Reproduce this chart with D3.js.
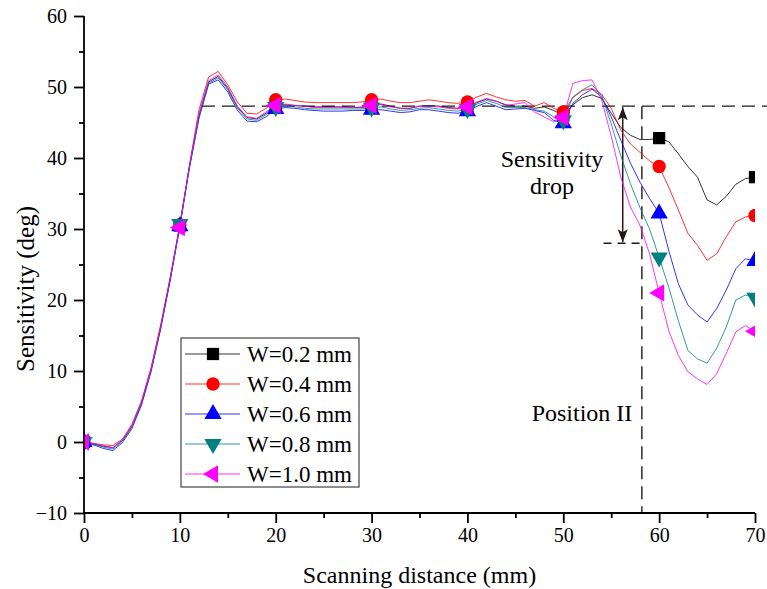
<!DOCTYPE html>
<html>
<head>
<meta charset="utf-8">
<script src="https://cdn.jsdelivr.net/npm/d3@7"></script>
<style>
  html, body { margin: 0; padding: 0; background: #fff; }
  svg { display: block; }
  text { font-family: "Liberation Serif", "Times New Roman", serif; fill: #000; }
</style>
</head>
<body>
<svg id="chart" width="767" height="589"></svg>
<script>
// ---------- DATA ----------
const distance = [0,1,2,3,4,5,6,7,8,9,10,11,12,13,14,15,16,17,18,19,20,21,22,23,24,25,26,27,28,29,30,31,32,33,34,35,36,37,38,39,40,41,42,43,44,45,46,47,48,49,50,51,52,53,54,55,56,57,58,59,60,61,62,63,64,65,66,67,68,69,70];
const markerDistances = [0,10,20,30,40,50,60,70];
const seriesNames = ["W=0.2 mm","W=0.4 mm","W=0.6 mm","W=0.8 mm","W=1.0 mm"];
const w02 = [0,-0.3,-0.6,-0.8,0.2,2.2,5.5,10.2,16.2,23.0,30.5,38.8,46.0,50.7,51.5,49.8,47.2,45.7,45.5,46.3,47.5,47.5,47.4,47.3,47.2,47.2,47.2,47.2,47.1,47.1,47.4,47.6,47.3,47.0,47.0,47.3,47.4,47.3,47.1,47.0,47.3,47.8,48.3,48.0,47.5,47.3,47.3,47.0,47.2,46.7,46.0,47.5,48.5,48.9,48.4,46.3,44.3,43.2,42.6,42.6,42.8,42.3,40.6,38.8,37.3,34.1,33.4,34.6,36.3,37.1,37.3];
const w04 = [0,-0.2,-0.4,-0.5,0.4,2.5,5.8,10.5,16.5,23.3,30.6,39.0,46.8,51.4,52.2,50.3,47.9,46.3,46.2,47.0,48.2,48.3,48.1,47.9,47.8,47.8,47.8,47.8,47.8,47.9,48.2,48.3,48.0,47.8,47.8,48.0,48.2,48.0,47.8,47.7,47.9,48.6,49.1,48.6,48.2,48.0,48.1,47.3,47.8,47.0,46.5,48.5,49.5,49.8,49.0,47.0,43.9,42.0,40.8,39.6,38.8,35.9,32.7,29.4,27.7,25.6,26.5,28.9,31.0,31.7,31.9];
const w06 = [0,-0.4,-0.9,-1.2,-0.1,1.9,5.2,9.9,15.9,22.8,30.4,38.6,45.6,50.4,51.0,49.3,46.7,45.2,45.1,45.8,46.9,47.1,47.0,46.8,46.7,46.6,46.6,46.6,46.7,46.7,46.8,46.8,46.6,46.4,46.5,46.8,46.8,46.6,46.4,46.3,46.6,47.3,47.8,47.3,46.8,46.9,47.0,46.7,46.4,45.3,44.9,47.7,48.9,49.7,48.6,45.8,42.5,39.3,36.6,34.3,32.2,27.0,22.3,19.3,17.9,16.9,18.8,21.4,24.4,25.8,25.5];
const w08 = [0,-0.3,-0.7,-1.0,0.1,2.1,5.4,10.1,16.1,22.9,30.7,38.7,45.8,50.5,51.3,49.6,47.0,45.5,45.3,46.1,47.2,47.3,47.2,47.0,46.9,46.9,46.9,46.9,46.9,46.9,47.1,47.2,46.9,46.7,46.8,47.0,47.1,46.9,46.7,46.6,46.9,47.6,48.1,47.7,47.1,47.1,47.1,46.8,46.6,45.8,45.3,48.6,49.6,50.3,48.8,44.8,40.3,36.4,33.0,30.0,26.0,21.8,17.1,12.9,11.7,11.1,13.2,16.2,20.0,20.7,20.3];
const w10 = [0,-0.2,-0.5,-0.8,0.3,2.3,5.6,10.3,16.3,23.1,30.2,38.9,46.3,50.9,51.7,50.0,47.3,45.8,45.6,46.5,47.4,47.6,47.4,47.3,47.1,47.1,47.1,47.1,47.1,47.2,47.4,47.5,47.2,47.0,47.0,47.3,47.3,47.2,47.0,46.9,47.2,47.9,48.4,48.0,47.4,47.6,47.8,46.5,45.8,45.1,45.7,50.5,50.9,51.0,48.2,43.1,37.3,33.1,30.5,26.5,21.0,15.7,12.2,9.9,8.9,8.1,9.6,12.5,15.5,16.4,15.6];
const xTicks = [0,10,20,30,40,50,60,70];
const yTicks = [-10,0,10,20,30,40,50,60];
const xMinor = [5,15,25,35,45,55,65];
const yMinor = [-5,5,15,25,35,45,55];
// annotation values
const plateau = 47.3;
const plateauStart = 12.3;
const dropLevel = 28.0;
const dropLineStart = 54.2;
const positionII = 58.2;
const arrowX = 56.2;

// ---------- STYLE ----------
const colors = ["#000000","#ff0000","#0000ff","#008080","#ff00ff"];
const shapes = ["square","circle","up","down","left"];
const series = [w02,w04,w06,w08,w10];
const FONT = '"Liberation Serif", "Times New Roman", serif';
const annColor = "#231815";

const svg = d3.select("#chart");
const x = d3.scaleLinear().domain([0,70]).range([84,755]);
const y = d3.scaleLinear().domain([-10,60]).range([513,16]);

const defs = svg.append("defs");
defs.append("clipPath").attr("id","plotclip")
  .append("rect").attr("x",x(0)).attr("y",0).attr("width",x(70)-x(0)).attr("height",589);
defs.append("marker").attr("id","arrowhead")
  .attr("viewBox","-14 -6 16 12").attr("refX",0).attr("refY",0)
  .attr("markerWidth",16).attr("markerHeight",12).attr("markerUnits","userSpaceOnUse")
  .attr("orient","auto-start-reverse")
  .append("path").attr("d","M0,0 L-13,-5 L-10,0 L-13,5 Z").attr("fill",annColor);

// ---------- ANNOTATION LINES ----------
const ann = svg.append("g");
ann.append("line")
  .attr("x1",x(plateauStart)).attr("x2",767).attr("y1",y(plateau)).attr("y2",y(plateau))
  .attr("stroke",annColor).attr("stroke-width",1.4).attr("stroke-dasharray","13,7");
ann.append("line")
  .attr("x1",x(positionII)).attr("x2",x(positionII)).attr("y1",y(plateau)).attr("y2",y(-10))
  .attr("stroke",annColor).attr("stroke-width",1.4).attr("stroke-dasharray","13,7");
ann.append("line")
  .attr("x1",x(dropLineStart)).attr("x2",x(positionII)).attr("y1",y(dropLevel)).attr("y2",y(dropLevel))
  .attr("stroke",annColor).attr("stroke-width",1.4).attr("stroke-dasharray","8,6");

// ---------- SERIES ----------
const plot = svg.append("g").attr("clip-path","url(#plotclip)");
const line = d3.line().x((d,i)=>x(distance[i])).y(d=>y(d));

function symbolPath(shape){
  const s = {square:d3.symbolSquare, circle:d3.symbolCircle, up:d3.symbolTriangle, down:d3.symbolTriangle, left:d3.symbolTriangle}[shape];
  const size = {square:150, circle:140, up:130, down:130, left:130}[shape];
  return d3.symbol().type(s).size(size)();
}
function symbolRotate(shape){
  return {square:0,circle:0,up:0,down:180,left:-90}[shape];
}

series.forEach((vals,k)=>{
  plot.append("path").datum(vals).attr("d",line)
    .attr("fill","none").attr("stroke",colors[k]).attr("stroke-width",1).attr("stroke-opacity",0.8)
    .attr("stroke-linejoin","round");
});
series.forEach((vals,k)=>{
  plot.selectAll(null).data(markerDistances).enter().append("path")
    .attr("d",symbolPath(shapes[k]))
    .attr("transform",d=>`translate(${x(d)},${y(vals[distance.indexOf(d)])}) rotate(${symbolRotate(shapes[k])})`)
    .attr("fill",colors[k]);
});

// ---------- ARROW ----------
ann.append("line")
  .attr("x1",x(arrowX)).attr("x2",x(arrowX)).attr("y1",y(plateau)+1).attr("y2",y(dropLevel)-1)
  .attr("stroke",annColor).attr("stroke-width",1.5)
  .attr("marker-start","url(#arrowhead)").attr("marker-end","url(#arrowhead)");

// ---------- AXES ----------
const axes = svg.append("g");
const xAxis = axes.append("g").attr("transform",`translate(0,${y(-10)})`)
  .call(d3.axisBottom(x).tickValues(xTicks).tickSize(10).tickPadding(5).tickFormat(d3.format("d")));
axes.append("g").attr("transform",`translate(0,${y(-10)})`)
  .call(d3.axisBottom(x).tickValues(xMinor).tickSize(5).tickFormat(""))
  .select(".domain").remove();
const yAxis = axes.append("g").attr("transform",`translate(${x(0)},0)`)
  .call(d3.axisLeft(y).tickValues(yTicks).tickSize(10).tickPadding(7).tickFormat(d3.format("d")));
axes.append("g").attr("transform",`translate(${x(0)},0)`)
  .call(d3.axisLeft(y).tickValues(yMinor).tickSize(5).tickFormat(""))
  .select(".domain").remove();
axes.selectAll(".domain").attr("stroke","#000").attr("stroke-width",1.8);
axes.selectAll(".tick line").attr("stroke","#000").attr("stroke-width",1.8);
axes.selectAll(".tick text").attr("font-family",FONT).attr("font-size",20).attr("fill","#000");
xAxis.select(".domain").attr("d",`M${x(0)},0H${x(70)}`);
yAxis.select(".domain").attr("d",`M0,${y(60)}V${y(-10)}`);

// ---------- TITLES ----------
svg.append("text").attr("x",(x(0)+x(70))/2).attr("y",583)
  .attr("text-anchor","middle").attr("font-family",FONT).attr("font-size",24)
  .text("Scanning distance (mm)");
svg.append("text").attr("transform","translate(34,289) rotate(-90)")
  .attr("text-anchor","middle").attr("font-family",FONT).attr("font-size",25)
  .text("Sensitivity (deg)");

svg.append("text").attr("x",552).attr("y",167).attr("text-anchor","middle")
  .attr("font-family",FONT).attr("font-size",24).text("Sensitivity");
svg.append("text").attr("x",552).attr("y",194).attr("text-anchor","middle")
  .attr("font-family",FONT).attr("font-size",24).text("drop");
svg.append("text").attr("x",582).attr("y",421).attr("text-anchor","middle")
  .attr("font-family",FONT).attr("font-size",24).text("Position II");

// ---------- LEGEND ----------
const lg = svg.append("g");
lg.append("rect").attr("x",181).attr("y",338).attr("width",178).attr("height",149)
  .attr("fill","#fff").attr("stroke","#444").attr("stroke-width",1.2);
const rows = lg.selectAll("g.row").data(seriesNames).enter().append("g")
  .attr("transform",(d,i)=>`translate(0,${354+i*30})`);
rows.append("line").attr("x1",185).attr("x2",240).attr("y1",0).attr("y2",0)
  .attr("stroke",(d,i)=>colors[i]).attr("stroke-width",1).attr("stroke-opacity",0.8);
rows.append("path").attr("d",(d,i)=>symbolPath(shapes[i]))
  .attr("transform",(d,i)=>`translate(213,0) rotate(${symbolRotate(shapes[i])})`)
  .attr("fill",(d,i)=>colors[i]);
rows.append("text").attr("x",247).attr("y",8).attr("font-family",FONT).attr("font-size",23)
  .text(d=>d);
</script>
</body>
</html>
